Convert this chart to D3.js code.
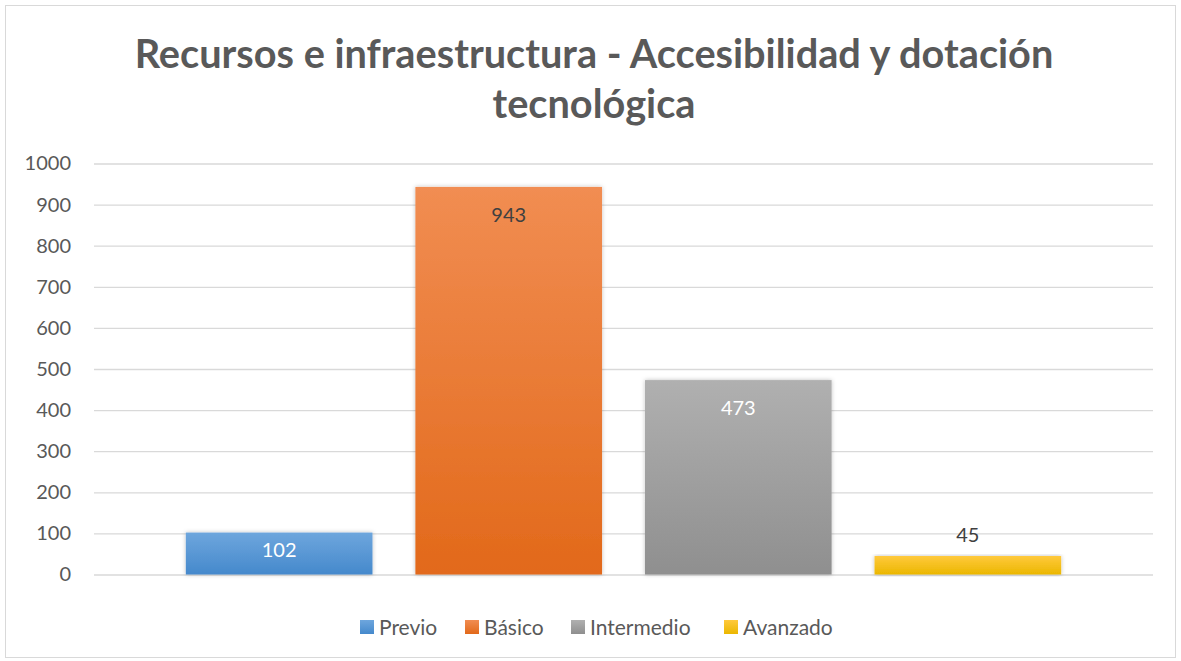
<!DOCTYPE html>
<html><head><meta charset="utf-8">
<script src="https://cdn.jsdelivr.net/npm/d3@7"></script>
<style>body{margin:0;background:#fff}svg{display:block}</style>
</head><body>
<script>
const seriesNames = ["Previo","Básico","Intermedio","Avanzado"];
const seriesValues = [102, 943, 473, 45];
const yTicks = [0,100,200,300,400,500,600,700,800,900,1000];
const titleLines = ["Recursos e infraestructura - Accesibilidad y dotación","tecnológica"];
const colorsTop = ["#6EA6DD","#F18D52","#B0B0B0","#FFC93C"];
const colorsBot = ["#4589CC","#E2691A","#8F8F8F","#EBB700"];
const labelInside = [true,true,true,false];
const labelColor = ["#ffffff","#404040","#ffffff","#404040"];

const W=1181,H=661;
const svg=d3.select("body").append("svg").attr("width",W).attr("height",H);
const defs=svg.append("defs");
seriesNames.forEach((n,i)=>{
  const g=defs.append("linearGradient").attr("id","g"+i).attr("x1",0).attr("y1",0).attr("x2",0).attr("y2",1);
  g.append("stop").attr("offset","0%").attr("stop-color",colorsTop[i]);
  g.append("stop").attr("offset","100%").attr("stop-color",colorsBot[i]);
});
const f=defs.append("filter").attr("id","sh").attr("x","-10%").attr("y","-10%").attr("width","120%").attr("height","120%");
f.append("feDropShadow").attr("dx",0).attr("dy",0).attr("stdDeviation",2).attr("flood-color","#000").attr("flood-opacity",0.25);

svg.append("rect").attr("x",5.5).attr("y",5.5).attr("width",W-11).attr("height",H-9).attr("fill","#fff").attr("stroke","#D9D9D9");

const font="Lato, 'Liberation Sans', sans-serif";
svg.append("g").selectAll("text").data(titleLines).join("text")
  .attr("x",594).attr("y",(d,i)=>68+i*50).attr("text-anchor","middle")
  .attr("font-family",font).attr("font-weight","bold").attr("font-size",39.7).attr("fill","#595959").text(d=>d);

const y=d3.scaleLinear().domain([0,1000]).range([574.5,163.5]);
const x=d3.scaleBand().domain(seriesNames).range([94,1153]).paddingInner(0.187).paddingOuter(0.4);

const gy=svg.append("g").attr("transform","translate(94,0)")
  .call(d3.axisLeft(y).tickValues(yTicks).tickSize(-(1153-94)).tickPadding(23).tickFormat(d3.format("d")));
gy.select(".domain").remove();
gy.selectAll(".tick line").attr("stroke","#D9D9D9").attr("stroke-width",1.3);
gy.selectAll(".tick text").attr("font-family",font).attr("font-size",20).attr("fill","#595959");

svg.append("g").selectAll("rect").data(seriesValues).join("rect")
  .attr("x",(d,i)=>x(seriesNames[i])).attr("width",x.bandwidth())
  .attr("y",d=>y(d)).attr("height",d=>y(0)-y(d))
  .attr("fill",(d,i)=>`url(#g${i})`).attr("filter","url(#sh)");

svg.append("g").selectAll("text").data(seriesValues).join("text")
  .attr("x",(d,i)=>x(seriesNames[i])+x.bandwidth()/2)
  .attr("y",(d,i)=>labelInside[i]?y(d)+Math.min(28,(y(0)-y(d))/2-4)+7:y(d)-14)
  .attr("text-anchor","middle").attr("font-family",font).attr("font-size",20)
  .attr("fill",(d,i)=>labelColor[i]).text(d=>d);

const legX=[360,465,571,724];
const lg=svg.append("g").selectAll("g").data(seriesNames).join("g")
  .attr("transform",(d,i)=>`translate(${legX[i]},620)`);
lg.append("rect").attr("width",14).attr("height",14).attr("fill",(d,i)=>`url(#g${i})`);
lg.append("text").attr("x",19).attr("y",14.5).attr("font-family",font).attr("font-size",21).attr("fill","#595959").text(d=>d);
</script>
</body></html>
